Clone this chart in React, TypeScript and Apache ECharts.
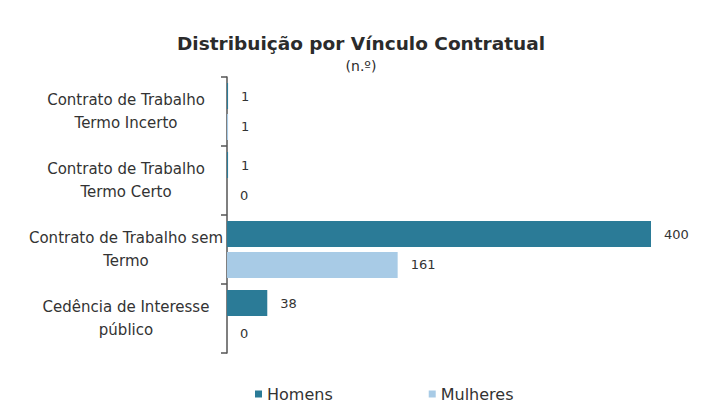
import React, { useEffect, useRef } from "react";
import * as echarts from "echarts";

const categories = [
  "Contrato de Trabalho\nTermo Incerto",
  "Contrato de Trabalho\nTermo Certo",
  "Contrato de Trabalho sem\nTermo",
  "Cedência de Interesse\npúblico",
];
const homens = [1, 1, 400, 38];
const mulheres = [1, 0, 161, 0];
const seriesNames = ["Homens", "Mulheres"];

export default function App() {
  const ref = useRef<HTMLDivElement>(null);
  useEffect(() => {
    document.body.style.margin = "0";
    if (!ref.current) return;
    const chart = echarts.init(ref.current, null, { renderer: "svg" });
    const font = "DejaVu Sans";
    const labelStyle = { show: true, position: "right", distance: 13, fontFamily: font, fontSize: 13, color: "#333" };
    chart.setOption({
      animation: false,
      backgroundColor: "#ffffff",
      title: {
        text: "Distribuição por Vínculo Contratual",
        subtext: "(n.º)",
        left: 356,
        textAlign: "center",
        top: 29,
        itemGap: 6,
        textStyle: { fontFamily: font, fontSize: 18.5, fontWeight: "bold", color: "#2b2b2b" },
        subtextStyle: { fontFamily: font, fontSize: 14, color: "#2b2b2b" },
      },
      legend: {
        bottom: 10,
        left: 250,
        itemGap: 96,
        itemWidth: 7,
        itemHeight: 7,
        icon: "rect",
        textStyle: { fontFamily: font, fontSize: 16, color: "#333" },
        data: seriesNames,
      },
      grid: { left: 227, right: 55, top: 77, bottom: 64 },
      xAxis: {
        type: "value",
        min: 0,
        max: 400,
        show: false,
      },
      yAxis: {
        type: "category",
        inverse: true,
        data: categories,
        axisLine: { show: true, lineStyle: { color: "#555", width: 1.5 } },
        axisTick: { show: true, length: 6, lineStyle: { color: "#555", width: 1.5 } },
        axisLabel: {
          fontFamily: font,
          fontSize: 15,
          color: "#333",
          lineHeight: 23,
          margin: 101,
          align: "center",
        },
      },
      series: [
        {
          name: seriesNames[0],
          type: "bar",
          data: homens,
          barWidth: 26,
          barGap: "19%",
          itemStyle: { color: "#2b7b97" },
          label: labelStyle,
        },
        {
          name: seriesNames[1],
          type: "bar",
          data: mulheres,
          barWidth: 26,
          barGap: "19%",
          itemStyle: { color: "#a8cbe6" },
          label: labelStyle,
        },
      ],
    });
    return () => chart.dispose();
  }, []);
  return <div ref={ref} style={{ width: 706, height: 417 }} />;
}
